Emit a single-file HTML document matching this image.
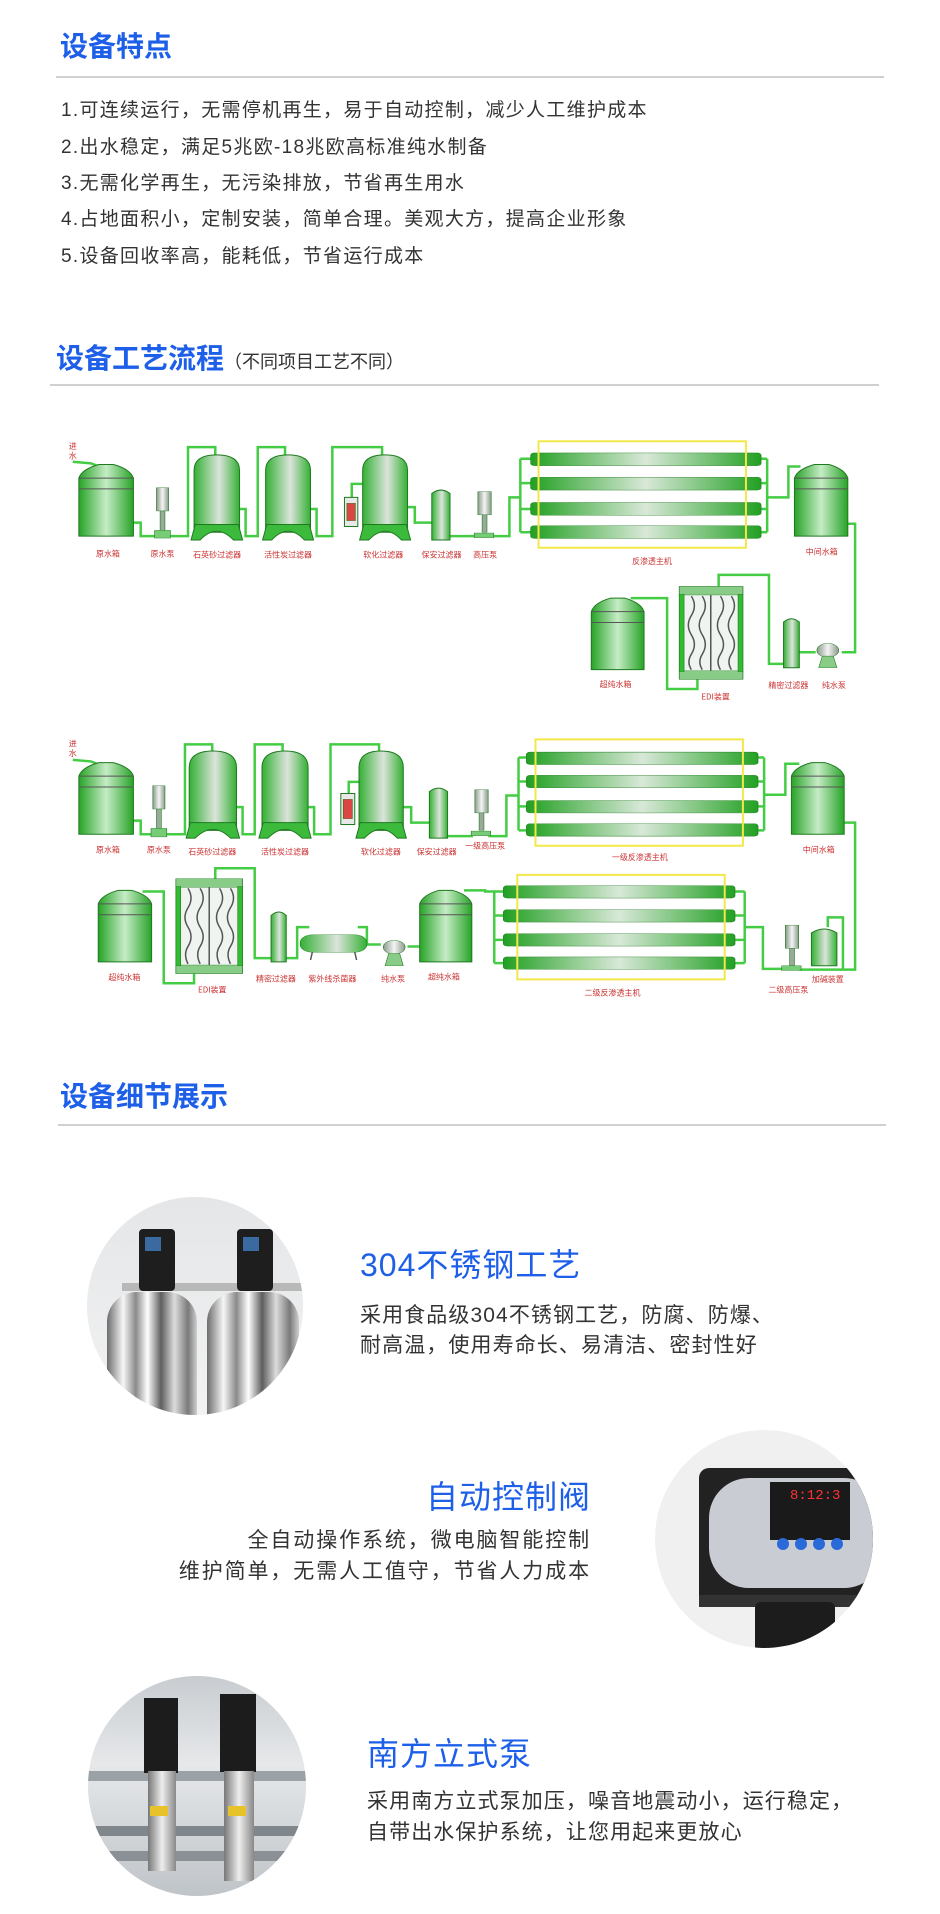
<!DOCTYPE html>
<html><head><meta charset="utf-8">
<style>
*{margin:0;padding:0;box-sizing:border-box}
body{width:940px;height:1914px;background:#fff;position:relative;overflow:hidden;font-family:"Liberation Sans","Noto Sans CJK SC",sans-serif}
.a{position:absolute;white-space:nowrap;line-height:1}
.h{color:#1d5fe8;font-weight:bold;font-size:28px}
.ln{position:absolute;height:2px;background:#d0d0d0}
.li{font-size:19px;color:#333;letter-spacing:1.3px}
.t{color:#1d5fe8;font-size:32px;letter-spacing:1px}
.d{font-size:21px;color:#333;letter-spacing:1.1px}
.c{position:absolute;border-radius:50%;overflow:hidden}
.c div{position:absolute}
</style></head><body>

<div class="a h" style="left:60px;top:33px">设备特点</div>
<div class="ln" style="left:56px;top:76px;width:828px"></div>
<div class="a li" style="left:61px;top:101px">1.可连续运行，无需停机再生，易于自动控制，减少人工维护成本</div>
<div class="a li" style="left:61px;top:138px">2.出水稳定，满足5兆欧-18兆欧高标准纯水制备</div>
<div class="a li" style="left:61px;top:174px">3.无需化学再生，无污染排放，节省再生用水</div>
<div class="a li" style="left:61px;top:210px">4.占地面积小，定制安装，简单合理。美观大方，提高企业形象</div>
<div class="a li" style="left:61px;top:247px">5.设备回收率高，能耗低，节省运行成本</div>

<div class="a h" style="left:56px;top:345px">设备工艺流程<span style="font-size:18px;color:#333;font-weight:normal">（不同项目工艺不同）</span></div>
<div class="ln" style="left:50px;top:384px;width:829px"></div>

<svg style="position:absolute;left:0;top:420px" width="940" height="600" viewBox="0 0 1550 1550" preserveAspectRatio="none">
<defs>
<linearGradient id="g" x1="0" x2="1" y1="0" y2="0"><stop offset="0" stop-color="#27a327"/><stop offset=".5" stop-color="#c6ecc6"/><stop offset="1" stop-color="#27a327"/></linearGradient>
<linearGradient id="f" x1="0" x2="1" y1="0" y2="0"><stop offset="0" stop-color="#34b034"/><stop offset=".55" stop-color="#dce4dc"/><stop offset="1" stop-color="#34b034"/></linearGradient>
<linearGradient id="m" x1="0" x2="1" y1="0" y2="0"><stop offset="0" stop-color="#22a022"/><stop offset=".5" stop-color="#d8e8d8"/><stop offset="1" stop-color="#22a022"/></linearGradient>
<linearGradient id="e" x1="0" x2="1" y1="0" y2="0"><stop offset="0" stop-color="#8a9a8a"/><stop offset=".5" stop-color="#f4f4f4"/><stop offset="1" stop-color="#8a9a8a"/></linearGradient>
</defs>
<g fill="none" stroke="#45cc45" stroke-width="2.5">
<path vector-effect="non-scaling-stroke" d="M120 108 L150 112 L160 118"/>
<path vector-effect="non-scaling-stroke" d="M220 265 L232 265 L232 300 L255 300 M280 300 L310 300 L310 70 L355 70 L355 92"/>
<path vector-effect="non-scaling-stroke" d="M395 230 L405 230 L405 300 L425 300 L425 70 L470 70 L470 92"/>
<path vector-effect="non-scaling-stroke" d="M512 230 L522 230 L522 300 L548 300 L548 70 L630 70 L630 92"/>
<path vector-effect="non-scaling-stroke" d="M580 200 L580 165 L608 165"/>
<path vector-effect="non-scaling-stroke" d="M672 225 L684 225 L684 265 L712 265"/>
<path vector-effect="non-scaling-stroke" d="M742 300 L785 300 M810 300 L840 300 L840 200 L858 200"/>
<path vector-effect="non-scaling-stroke" d="M858 100 L858 290 M858 100 L875 100 M858 163 L875 163 M858 230 L875 230 M858 290 L875 290"/>
<path vector-effect="non-scaling-stroke" d="M1265 100 L1265 290 M1255 100 L1265 100 M1255 163 L1265 163 M1255 230 L1265 230 M1255 290 L1265 290 M1265 200 L1300 200 L1300 120 L1320 120"/>
<path vector-effect="non-scaling-stroke" d="M1398 268 L1410 268 L1410 600 L1388 600 M1345 600 L1318 600 M1292 630 L1268 630 L1268 400 L1185 400 L1185 430"/>
<path vector-effect="non-scaling-stroke" d="M1150 670 L1150 695 L1100 695 L1100 460 L1040 460"/>
<path vector-effect="non-scaling-stroke" d="M120 878 L150 882 L160 888"/>
<path vector-effect="non-scaling-stroke" d="M220 1035 L232 1035 L232 1070 L250 1070 M275 1070 L305 1070 L305 838 L350 838 L350 858"/>
<path vector-effect="non-scaling-stroke" d="M390 1000 L400 1000 L400 1070 L420 1070 L420 838 L466 838 L466 858"/>
<path vector-effect="non-scaling-stroke" d="M508 1000 L518 1000 L518 1070 L545 1070 L545 838 L625 838 L625 858"/>
<path vector-effect="non-scaling-stroke" d="M575 965 L575 935 L600 935"/>
<path vector-effect="non-scaling-stroke" d="M665 1000 L678 1000 L678 1040 L708 1040"/>
<path vector-effect="non-scaling-stroke" d="M738 1075 L780 1075 M805 1075 L835 1075 L835 970 L855 970"/>
<path vector-effect="non-scaling-stroke" d="M855 872 L855 1060 M855 872 L868 872 M855 934 L868 934 M855 998 L868 998 M855 1060 L868 1060"/>
<path vector-effect="non-scaling-stroke" d="M1260 872 L1260 1060 M1250 872 L1260 872 M1250 934 L1260 934 M1250 998 L1260 998 M1250 1060 L1260 1060 M1260 968 L1295 968 L1295 888 L1318 888"/>
<path vector-effect="non-scaling-stroke" d="M1392 1040 L1410 1040 L1410 1420 L1318 1420 M1390 1420 L1390 1285 L1365 1285 L1365 1310"/>
<path vector-effect="non-scaling-stroke" d="M1292 1418 L1258 1418 L1258 1310 L1228 1310 M1228 1218 L1228 1403 M1212 1218 L1228 1218 M1212 1280 L1228 1280 M1212 1343 L1228 1343 M1212 1403 L1228 1403"/>
<path vector-effect="non-scaling-stroke" d="M815 1218 L815 1403 M815 1218 L830 1218 M815 1280 L830 1280 M815 1343 L830 1343 M815 1403 L830 1403 M815 1218 L800 1218 L800 1215 L765 1215"/>
<path vector-effect="non-scaling-stroke" d="M692 1360 L672 1360 M628 1355 L605 1355 L605 1310 L590 1310 M510 1310 L490 1310 L490 1390 L472 1390"/>
<path vector-effect="non-scaling-stroke" d="M447 1390 L420 1390 L420 1158 L355 1158 L355 1185"/>
<path vector-effect="non-scaling-stroke" d="M320 1430 L320 1455 L270 1455 L270 1218 L235 1218"/>
</g>

<g stroke="#1e7a1e" stroke-width="1">
<path vector-effect="non-scaling-stroke" fill="url(#g)" d="M130 150 Q135 127 163 115 L187 115 Q215 127 220 150 L220 300 L130 300 Z"/>
<path vector-effect="non-scaling-stroke" fill="url(#g)" d="M1310 150 Q1315 127 1343 115 L1367 115 Q1393 127 1398 150 L1398 300 L1310 300 Z"/>
<path vector-effect="non-scaling-stroke" fill="url(#g)" d="M975 495 Q980 472 1007 460 L1030 460 Q1057 472 1062 495 L1062 645 L975 645 Z"/>
<path vector-effect="non-scaling-stroke" fill="url(#g)" d="M130 920 Q135 897 163 885 L187 885 Q215 897 220 920 L220 1070 L130 1070 Z"/>
<path vector-effect="non-scaling-stroke" fill="url(#g)" d="M1305 920 Q1310 897 1338 885 L1360 885 Q1387 897 1392 920 L1392 1070 L1305 1070 Z"/>
<path vector-effect="non-scaling-stroke" fill="url(#g)" d="M162 1250 Q167 1227 195 1215 L217 1215 Q245 1227 250 1250 L250 1400 L162 1400 Z"/>
<path vector-effect="non-scaling-stroke" fill="url(#g)" d="M692 1250 Q697 1227 724 1215 L746 1215 Q773 1227 778 1250 L778 1400 L692 1400 Z"/>
<path vector-effect="non-scaling-stroke" fill="none" stroke="#555" d="M130 150 L220 150 M130 178 L220 178 M1310 150 L1398 150 M1310 178 L1398 178 M975 495 L1062 495 M975 523 L1062 523 M130 920 L220 920 M130 948 L220 948 M1305 920 L1392 920 M1305 948 L1392 948 M162 1250 L250 1250 M162 1278 L250 1278 M692 1250 L778 1250 M692 1278 L778 1278"/>
<path vector-effect="non-scaling-stroke" fill="url(#f)" d="M320 290 L320 130 Q320 90 357 90 Q395 90 395 130 L395 290 Z"/>
<path vector-effect="non-scaling-stroke" fill="#3cba3c" d="M315 310 L322 270 L393 270 L400 310 L385 310 Q357 265 330 310 Z"/>
<path vector-effect="non-scaling-stroke" fill="url(#f)" d="M438 290 L438 130 Q438 90 475 90 Q512 90 512 130 L512 290 Z"/>
<path vector-effect="non-scaling-stroke" fill="#3cba3c" d="M433 310 L440 270 L510 270 L517 310 L502 310 Q475 265 448 310 Z"/>
<path vector-effect="non-scaling-stroke" fill="url(#f)" d="M598 290 L598 130 Q598 90 635 90 Q672 90 672 130 L672 290 Z"/>
<path vector-effect="non-scaling-stroke" fill="#3cba3c" d="M593 310 L600 270 L670 270 L677 310 L662 310 Q635 265 608 310 Z"/>
<path vector-effect="non-scaling-stroke" fill="url(#f)" d="M312 1060 L312 898 Q312 855 351 855 Q390 855 390 898 L390 1060 Z"/>
<path vector-effect="non-scaling-stroke" fill="#3cba3c" d="M307 1080 L314 1040 L388 1040 L395 1080 L380 1080 Q351 1035 322 1080 Z"/>
<path vector-effect="non-scaling-stroke" fill="url(#f)" d="M432 1060 L432 898 Q432 855 470 855 Q508 855 508 898 L508 1060 Z"/>
<path vector-effect="non-scaling-stroke" fill="#3cba3c" d="M427 1080 L434 1040 L506 1040 L513 1080 L498 1080 Q470 1035 442 1080 Z"/>
<path vector-effect="non-scaling-stroke" fill="url(#f)" d="M592 1060 L592 898 Q592 855 628 855 Q665 855 665 898 L665 1060 Z"/>
<path vector-effect="non-scaling-stroke" fill="#3cba3c" d="M587 1080 L594 1040 L663 1040 L670 1080 L655 1080 Q628 1035 601 1080 Z"/>
<rect vector-effect="non-scaling-stroke" x="568" y="200" width="22" height="75" fill="#e8e8e8"/><rect x="572" y="215" width="14" height="45" fill="#d44"/>
<rect vector-effect="non-scaling-stroke" x="562" y="965" width="23" height="80" fill="#e8e8e8"/><rect x="566" y="980" width="15" height="50" fill="#d44"/>
<path vector-effect="non-scaling-stroke" fill="url(#f)" d="M712 310 L712 190 Q727 172 742 190 L742 310 Z"/>
<path vector-effect="non-scaling-stroke" fill="url(#f)" d="M1292 640 L1292 522 Q1305 505 1318 522 L1318 640 Z"/>
<path vector-effect="non-scaling-stroke" fill="url(#f)" d="M708 1080 L708 960 Q723 942 738 960 L738 1080 Z"/>
<path vector-effect="non-scaling-stroke" fill="url(#f)" d="M447 1400 L447 1280 Q460 1262 472 1280 L472 1400 Z"/>
<path vector-effect="non-scaling-stroke" fill="url(#f)" d="M1338 1410 L1338 1325 Q1359 1305 1380 1325 L1380 1410 Z"/>
<rect x="258" y="175" width="20" height="60" fill="url(#e)"/><rect x="264" y="235" width="8" height="50" fill="#9a9"/><rect x="255" y="285" width="26" height="20" fill="#7c7"/>
<rect x="788" y="185" width="22" height="60" fill="url(#e)"/><rect x="795" y="245" width="8" height="45" fill="#9a9"/><rect x="782" y="292" width="32" height="12" fill="#7c7"/>
<rect x="252" y="945" width="20" height="60" fill="url(#e)"/><rect x="258" y="1005" width="8" height="50" fill="#9a9"/><rect x="249" y="1055" width="26" height="22" fill="#7c7"/>
<rect x="783" y="955" width="22" height="60" fill="url(#e)"/><rect x="790" y="1015" width="8" height="45" fill="#9a9"/><rect x="777" y="1062" width="32" height="12" fill="#7c7"/>
<rect x="1295" y="1305" width="22" height="60" fill="url(#e)"/><rect x="1302" y="1365" width="8" height="45" fill="#9a9"/><rect x="1289" y="1410" width="32" height="12" fill="#7c7"/>
<circle cx="1365" cy="595" r="18" fill="url(#e)"/><path fill="#8c8" d="M1350 640 L1356 610 L1374 610 L1380 640 Z"/>
<circle cx="650" cy="1362" r="18" fill="url(#e)"/><path fill="#8c8" d="M635 1410 L641 1378 L659 1378 L665 1410 Z"/>
<rect x="495" y="1330" width="110" height="45" rx="20" fill="url(#f)"/>
<g fill="url(#m)">
<rect x="875" y="85" width="380" height="33" rx="6"/><rect x="875" y="148" width="380" height="33" rx="6"/><rect x="875" y="213" width="380" height="33" rx="6"/><rect x="875" y="273" width="380" height="33" rx="6"/>
<rect x="868" y="858" width="382" height="32" rx="6"/><rect x="868" y="918" width="382" height="32" rx="6"/><rect x="868" y="983" width="382" height="32" rx="6"/><rect x="868" y="1043" width="382" height="32" rx="6"/>
<rect x="830" y="1203" width="382" height="32" rx="6"/><rect x="830" y="1265" width="382" height="32" rx="6"/><rect x="830" y="1327" width="382" height="32" rx="6"/><rect x="830" y="1387" width="382" height="32" rx="6"/>
</g>
<rect x="1120" y="430" width="105" height="240" fill="#f0f4f0"/>
<rect x="1120" y="430" width="105" height="22" fill="#8c8"/><rect x="1120" y="648" width="105" height="22" fill="#8c8"/>
<rect x="1120" y="450" width="8" height="200" fill="#3b3"/><rect x="1217" y="450" width="8" height="200" fill="#3b3"/>
<rect x="290" y="1185" width="110" height="245" fill="#f0f4f0"/>
<rect x="290" y="1185" width="110" height="22" fill="#8c8"/><rect x="290" y="1408" width="110" height="22" fill="#8c8"/>
<rect x="290" y="1205" width="8" height="205" fill="#3b3"/><rect x="392" y="1205" width="8" height="205" fill="#3b3"/>
</g>
<g fill="none" stroke="#555" stroke-width="1.5">
<path vector-effect="non-scaling-stroke" d="M1140 455 q10 25 0 50 q-10 25 0 50 q10 25 0 50 q-8 20 0 40 M1158 455 q10 25 0 50 q-10 25 0 50 q10 25 0 50 q-8 20 0 40 M1188 455 q10 25 0 50 q-10 25 0 50 q10 25 0 50 q-8 20 0 40 M1206 455 q10 25 0 50 q-10 25 0 50 q10 25 0 50 q-8 20 0 40 M1172 452 L1172 648"/>
<path vector-effect="non-scaling-stroke" d="M310 1210 q10 25 0 50 q-10 25 0 50 q10 25 0 50 q-8 20 0 45 M330 1210 q10 25 0 50 q-10 25 0 50 q10 25 0 50 q-8 20 0 45 M362 1210 q10 25 0 50 q-10 25 0 50 q10 25 0 50 q-8 20 0 45 M380 1210 q10 25 0 50 q-10 25 0 50 q10 25 0 50 q-8 20 0 45 M345 1207 L345 1408"/>
<path vector-effect="non-scaling-stroke" d="M515 1375 L512 1395 M585 1375 L588 1395"/>
</g>
<g fill="none" stroke="#f2e84a" stroke-width="2">
<rect vector-effect="non-scaling-stroke" x="888" y="55" width="342" height="275"/>
<rect vector-effect="non-scaling-stroke" x="883" y="825" width="342" height="275"/>
<rect vector-effect="non-scaling-stroke" x="853" y="1175" width="342" height="270"/>
</g>
<g fill="#c33" font-size="8" text-anchor="middle" font-family="Noto Sans CJK SC, sans-serif">
<text transform="translate(120,75) scale(1.65,2.58)">进</text><text transform="translate(120,100) scale(1.65,2.58)">水</text>
<text transform="translate(120,843) scale(1.65,2.58)">进</text><text transform="translate(120,868) scale(1.65,2.58)">水</text>
<text transform="translate(178,352) scale(1.65,2.58)">原水箱</text>
<text transform="translate(268,352) scale(1.65,2.58)">原水泵</text>
<text transform="translate(358,355) scale(1.65,2.58)">石英砂过滤器</text>
<text transform="translate(475,355) scale(1.65,2.58)">活性炭过滤器</text>
<text transform="translate(632,355) scale(1.65,2.58)">软化过滤器</text>
<text transform="translate(728,355) scale(1.65,2.58)">保安过滤器</text>
<text transform="translate(800,355) scale(1.65,2.58)">高压泵</text>
<text transform="translate(1075,372) scale(1.65,2.58)">反渗透主机</text>
<text transform="translate(1355,347) scale(1.65,2.58)">中间水箱</text>
<text transform="translate(1015,690) scale(1.65,2.58)">超纯水箱</text>
<text transform="translate(1180,722) scale(1.65,2.58)">EDI装置</text>
<text transform="translate(1300,692) scale(1.65,2.58)">精密过滤器</text>
<text transform="translate(1375,692) scale(1.65,2.58)">纯水泵</text>
<text transform="translate(178,1117) scale(1.65,2.58)">原水箱</text>
<text transform="translate(262,1117) scale(1.65,2.58)">原水泵</text>
<text transform="translate(350,1122) scale(1.65,2.58)">石英砂过滤器</text>
<text transform="translate(470,1122) scale(1.65,2.58)">活性炭过滤器</text>
<text transform="translate(628,1122) scale(1.65,2.58)">软化过滤器</text>
<text transform="translate(720,1122) scale(1.65,2.58)">保安过滤器</text>
<text transform="translate(800,1107) scale(1.65,2.58)">一级高压泵</text>
<text transform="translate(1055,1137) scale(1.65,2.58)">一级反渗透主机</text>
<text transform="translate(1350,1117) scale(1.65,2.58)">中间水箱</text>
<text transform="translate(205,1447) scale(1.65,2.58)">超纯水箱</text>
<text transform="translate(350,1479) scale(1.65,2.58)">EDI装置</text>
<text transform="translate(455,1450) scale(1.65,2.58)">精密过滤器</text>
<text transform="translate(548,1450) scale(1.65,2.58)">紫外线杀菌器</text>
<text transform="translate(648,1450) scale(1.65,2.58)">纯水泵</text>
<text transform="translate(732,1445) scale(1.65,2.58)">超纯水箱</text>
<text transform="translate(1010,1487) scale(1.65,2.58)">二级反渗透主机</text>
<text transform="translate(1300,1479) scale(1.65,2.58)">二级高压泵</text>
<text transform="translate(1365,1452) scale(1.65,2.58)">加碱装置</text>
</g>
</svg>

<div class="a h" style="left:60px;top:1083px">设备细节展示</div>
<div class="ln" style="left:58px;top:1124px;width:828px"></div>

<div class="c" style="left:87px;top:1197px;width:216px;height:218px;background:linear-gradient(#e4e6e8,#f2f2f2)">
  <div style="left:20px;top:95px;width:90px;height:135px;border-radius:30px 30px 0 0;background:linear-gradient(90deg,#6c6c6c,#f6f6f6 18%,#8a8a8a 32%,#fff 45%,#5e5e5e 60%,#dcdcdc 75%,#7a7a7a 90%,#cfcfcf)"></div>
  <div style="left:120px;top:95px;width:92px;height:135px;border-radius:30px 30px 0 0;background:linear-gradient(90deg,#6c6c6c,#f6f6f6 18%,#8a8a8a 32%,#fff 45%,#5e5e5e 60%,#dcdcdc 75%,#7a7a7a 90%,#cfcfcf)"></div>
  <div style="left:35px;top:86px;width:190px;height:8px;background:#b8b8b8"></div>
  <div style="left:52px;top:32px;width:36px;height:62px;background:#1e1e1e;border-radius:4px"></div>
  <div style="left:150px;top:32px;width:36px;height:62px;background:#1e1e1e;border-radius:4px"></div>
  <div style="left:58px;top:40px;width:16px;height:14px;background:#3a6aa0"></div>
  <div style="left:156px;top:40px;width:16px;height:14px;background:#3a6aa0"></div>
</div>
<div class="a t" style="left:360px;top:1249px">304不锈钢工艺</div>
<div class="a d" style="left:360px;top:1305px">采用食品级304不锈钢工艺，防腐、防爆、</div>
<div class="a d" style="left:360px;top:1335px">耐高温，使用寿命长、易清洁、密封性好</div>

<div class="a t" style="right:349px;top:1481px">自动控制阀</div>
<div class="a d" style="right:349px;top:1530px;letter-spacing:1.9px">全自动操作系统，微电脑智能控制</div>
<div class="a d" style="right:349px;top:1561px;letter-spacing:1.9px">维护简单，无需人工值守，节省人力成本</div>
<div class="c" style="left:655px;top:1430px;width:218px;height:218px;background:#f0f0f0">
  <div style="left:44px;top:38px;width:180px;height:130px;background:#222;border-radius:10px 0 0 0"></div>
  <div style="left:54px;top:48px;width:175px;height:110px;background:#c9ccd2;border-radius:40px"></div>
  <div style="left:115px;top:52px;width:80px;height:58px;background:#1a1a1a"></div>
  <div style="left:135px;top:58px;color:#f33;font-size:14px;font-family:'Liberation Mono',monospace">8:12:3</div>
  <div style="left:122px;top:108px;width:12px;height:12px;border-radius:50%;background:#2a6ad8"></div>
  <div style="left:140px;top:108px;width:12px;height:12px;border-radius:50%;background:#2a6ad8"></div>
  <div style="left:158px;top:108px;width:12px;height:12px;border-radius:50%;background:#2a6ad8"></div>
  <div style="left:176px;top:108px;width:12px;height:12px;border-radius:50%;background:#2a6ad8"></div>
  <div style="left:44px;top:165px;width:180px;height:12px;background:#333"></div>
  <div style="left:100px;top:172px;width:80px;height:50px;background:#1c1c1c;border-radius:6px"></div>
</div>

<div class="c" style="left:88px;top:1676px;width:218px;height:220px;background:linear-gradient(180deg,#c8ccd0,#e6e8ea 40%,#bfc4c8)">
  <div style="left:0;top:95px;width:218px;height:10px;background:#9aa2a8"></div>
  <div style="left:0;top:150px;width:218px;height:10px;background:#7f868c"></div>
  <div style="left:0;top:175px;width:218px;height:10px;background:#8a9096"></div>
  <div style="left:56px;top:22px;width:34px;height:75px;background:#1c1c1c"></div>
  <div style="left:132px;top:18px;width:36px;height:78px;background:#1c1c1c"></div>
  <div style="left:60px;top:95px;width:28px;height:100px;background:linear-gradient(90deg,#777,#eee,#888)"></div>
  <div style="left:136px;top:95px;width:30px;height:110px;background:linear-gradient(90deg,#777,#eee,#888)"></div>
  <div style="left:62px;top:130px;width:18px;height:10px;background:#e8c22a"></div>
  <div style="left:140px;top:130px;width:18px;height:10px;background:#e8c22a"></div>
</div>
<div class="a t" style="left:367px;top:1738px">南方立式泵</div>
<div class="a d" style="left:367px;top:1791px">采用南方立式泵加压，噪音地震动小，运行稳定，</div>
<div class="a d" style="left:367px;top:1822px">自带出水保护系统，让您用起来更放心</div>
</body></html>
